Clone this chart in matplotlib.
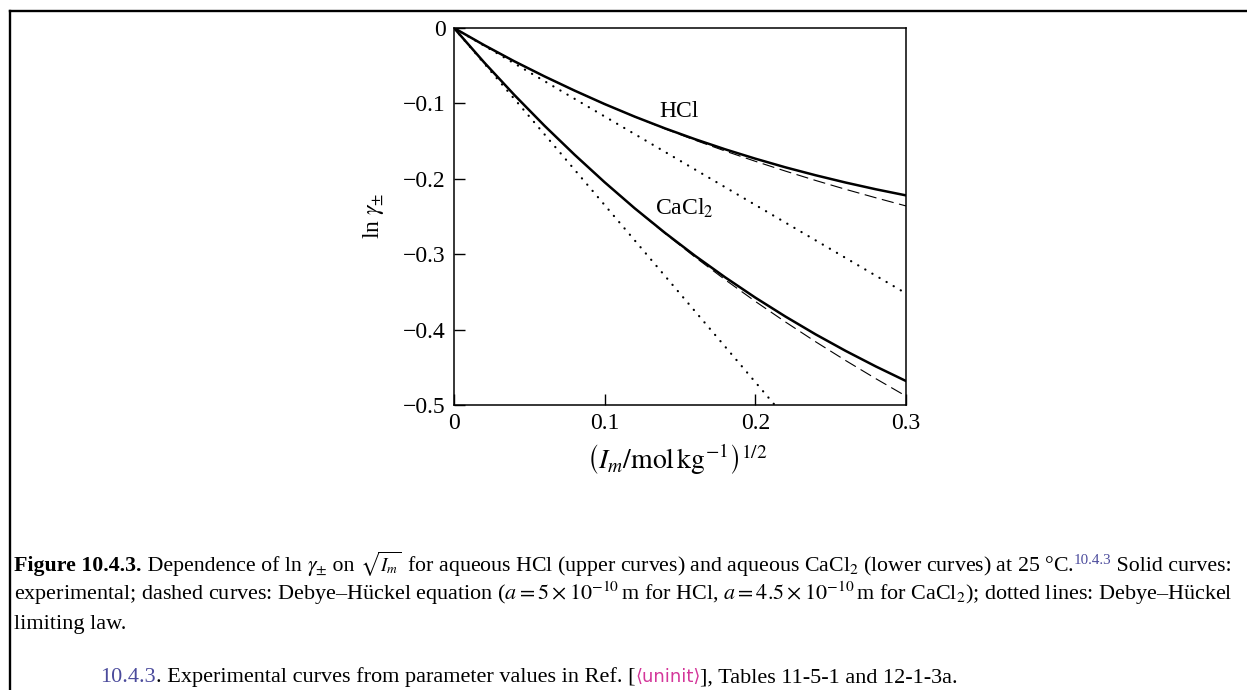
import numpy as np
import matplotlib.pyplot as plt
from matplotlib.lines import Line2D

plt.rcParams['font.family'] = ['Liberation Serif', 'DejaVu Serif']
plt.rcParams['mathtext.fontset'] = 'stix'

# values
sqrt_I = [0.00, 0.02, 0.04, 0.06, 0.08, 0.10, 0.12, 0.14, 0.16,
          0.18, 0.20, 0.22, 0.24, 0.26, 0.28, 0.30]
hcl_exp = [0.0, -0.0227, -0.0441, -0.0641, -0.0830, -0.1009, -0.1176, -0.1331,
           -0.1475, -0.1609, -0.1733, -0.1848, -0.1953, -0.2050, -0.2139, -0.2220]
hcl_dh = [0.0, -0.0227, -0.0441, -0.0641, -0.0830, -0.1009, -0.1177, -0.1337,
          -0.1488, -0.1632, -0.1768, -0.1898, -0.2022, -0.2140, -0.2252, -0.2360]
cacl2_exp = [0.0, -0.0456, -0.0887, -0.1295, -0.1680, -0.2046, -0.2392, -0.2716,
             -0.3021, -0.3307, -0.3576, -0.3827, -0.4063, -0.4283, -0.4489, -0.4682]
cacl2_dh = [0.0, -0.0456, -0.0887, -0.1295, -0.1680, -0.2046, -0.2394, -0.2724,
            -0.3039, -0.3339, -0.3626, -0.3899, -0.4161, -0.4411, -0.4651, -0.4882]
lim_hcl_x = [0.0, 0.30]
lim_hcl_y = [0.0, -0.352]
lim_cacl2_x = [0.0, 0.2129]
lim_cacl2_y = [0.0, -0.500]

xticks = [0.0, 0.1, 0.2, 0.3]
xticklabels = ['0', '0.1', '0.2', '0.3']
yticks = [0.0, -0.1, -0.2, -0.3, -0.4, -0.5]
yticklabels = ['0', '\u22120.1', '\u22120.2', '\u22120.3', '\u22120.4', '\u22120.5']

W, H = 1247, 690
fig = plt.figure(figsize=(W / 100, H / 100), dpi=100)

# page frame (left and top edges)
fig.add_artist(Line2D([10 / W, 10 / W], [0, 1 - 11 / H], color='black', lw=1.7,
                      transform=fig.transFigure))
fig.add_artist(Line2D([10 / W, 1], [1 - 11 / H, 1 - 11 / H], color='black', lw=1.7,
                      transform=fig.transFigure))

ax = fig.add_axes([454 / W, 1 - 405 / H, 452 / W, 377 / H])
ax.plot(sqrt_I, hcl_exp, color='black', lw=1.8)
ax.plot(sqrt_I, cacl2_exp, color='black', lw=1.8)
ax.plot(sqrt_I, hcl_dh, color='black', lw=0.8, linestyle=(0, (11, 5)))
ax.plot(sqrt_I, cacl2_dh, color='black', lw=0.8, linestyle=(0, (11, 5)))
ax.plot(lim_hcl_x, lim_hcl_y, color='black', lw=1.6, linestyle=(0, (0.1, 3.6)),
        dash_capstyle='round')
ax.plot(lim_cacl2_x, lim_cacl2_y, color='black', lw=1.6, linestyle=(0, (0.1, 3.6)),
        dash_capstyle='round')

ax.set_xlim(0, 0.3)
ax.set_ylim(-0.5, 0)
ax.set_xticks(xticks)
ax.set_xticklabels(xticklabels)
ax.set_yticks(yticks)
ax.set_yticklabels(yticklabels)
ax.tick_params(direction='in', length=8, width=1, labelsize=17, pad=6)
for s in ax.spines.values():
    s.set_linewidth(1.1)

ax.text(0.1493, -0.111, 'HCl', fontsize=17, ha='center', va='center')
ax.text(0.1527, -0.239, r'CaCl$_2$', fontsize=17, ha='center', va='center')

fig.text(373 / W, 1 - 216 / H, r'ln $\gamma_{\pm}$', rotation=90, fontsize=17,
         ha='center', va='center')
fig.text(677 / W, 1 - 460 / H, r'$\left(I_m/\mathrm{mol\,kg^{-1}}\right)^{1/2}$',
         fontsize=20, ha='center', va='center')

# caption, written as runs of text
renderer = fig.canvas.get_renderer()
blue = '#4b4b9c'
pink = '#d4379a'


def run(x0, y0, parts, right=None):
    # lay out runs left to right; shrink the line if it passes `right`
    scale = 1.0
    while True:
        x = x0 / W
        texts = []
        for s, kw in parts:
            kw = dict(kw)
            dy = kw.pop('dy', 0)
            kw['fontsize'] = kw['fontsize'] * scale
            t = fig.text(x, 1 - (y0 - dy * scale) / H, s, va='baseline', **kw)
            texts.append(t)
            x = t.get_window_extent(renderer).x1 / W
        if right is None or x * W <= right:
            return
        for t in texts:
            t.remove()
        scale *= right / (x * W) * 0.998


cs = 16
run(14, 571, [
    ('Figure 10.4.3.', dict(fontsize=cs, fontweight='bold')),
    (' Dependence of ln ', dict(fontsize=cs)),
    (r'$\gamma_{\pm}$', dict(fontsize=cs)),
    (' on ', dict(fontsize=cs)),
    (r'$\sqrt{I_m}$', dict(fontsize=14)),
    (r' for aqueous HCl (upper curves)'
     r' and aqueous CaCl$_2$ (lower curves) at 25 °C.', dict(fontsize=cs)),
    ('10.4.3', dict(fontsize=11, color=blue, dy=7)),
    (' Solid curves:', dict(fontsize=cs)),
], right=1236)
run(14, 600, [
    (r'experimental; dashed curves: Debye–Hückel equation ($a = 5\times10^{-10}\,$m for HCl,'
     r' $a = 4.5\times10^{-10}\,$m for CaCl$_2$); dotted lines: Debye–Hückel',
     dict(fontsize=cs)),
], right=1236)
run(14, 629, [('limiting law.', dict(fontsize=cs))])
run(100, 682, [
    ('10.4.3', dict(fontsize=cs, color=blue)),
    ('. Experimental curves from parameter values in Ref. [', dict(fontsize=cs)),
    ('\u27e8uninit\u27e9', dict(fontsize=13, color=pink, family=['DejaVu Sans'])),
    ('], Tables 11-5-1 and 12-1-3a.', dict(fontsize=cs)),
])

fig.savefig('out.png', dpi=100)
